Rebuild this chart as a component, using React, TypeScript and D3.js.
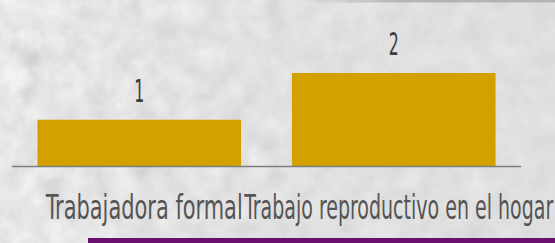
import React from "react";
import * as d3 from "d3";

const categories: string[] = ["Trabajadora formal", "Trabajo reproductivo en el hogar"];
const values: number[] = [1, 2];
const valueLabels: string[] = ["1", "2"];

const W = 555;
const H = 243;
const FONT = "'DejaVu Sans Condensed', 'Liberation Sans Narrow', sans-serif";

export default function App() {
  const x = d3.scaleBand<string>().domain(categories).range([12, 521]).paddingInner(0.2).paddingOuter(0.1);
  const y = d3.scaleLinear().domain([0, 2]).range([166.5, 73]);
  const labelWidths = [197, 309];

  return (
    <svg width={W} height={H} style={{ position: "fixed", left: 0, top: 0, display: "block" }}>
      <defs>
        <filter id="tex" x="0" y="0" width="100%" height="100%" filterUnits="userSpaceOnUse">
          <feTurbulence type="fractalNoise" baseFrequency="0.045" numOctaves={4} seed={7} result="n" />
          <feColorMatrix
            in="n"
            type="matrix"
            values="0.2 0.2 0.2 0 0.5  0.2 0.2 0.2 0 0.5  0.2 0.2 0.2 0 0.5  0 0 0 0 1"
          />
        </filter>
        <linearGradient id="shade" x1="0" x2="1" y1="0" y2="0">
          <stop offset="0" stopColor="#d0d0d0" stopOpacity={0.0} />
          <stop offset="0.45" stopColor="#d6d6d6" stopOpacity={0.35} />
          <stop offset="1" stopColor="#dadada" stopOpacity={0.6} />
        </linearGradient>
        <linearGradient id="edge" x1="0" x2="1" y1="0" y2="0">
          <stop offset="0" stopColor="#8a8a8a" stopOpacity={0} />
          <stop offset="0.4" stopColor="#8a8a8a" stopOpacity={0.5} />
          <stop offset="1" stopColor="#8a8a8a" stopOpacity={0.5} />
        </linearGradient>
      </defs>
      <rect x={0} y={0} width={W} height={H} fill="#d0d0d0" />
      <rect x={0} y={0} width={W} height={H} filter="url(#tex)" />
      <rect x={0} y={0} width={W} height={H} fill="url(#shade)" />
      <rect x={300} y={0} width={W - 300} height={2.5} fill="url(#edge)" />

      {categories.map((c, i) => (
        <rect
          key={c}
          x={x(c)}
          y={y(values[i])}
          width={x.bandwidth()}
          height={y(0) - y(values[i])}
          fill="#d4a000"
        />
      ))}
      <line x1={12} x2={521} y1={y(0)} y2={y(0)} stroke="#7d7d7d" strokeWidth={1.5} />

      {categories.map((c, i) => (
        <text
          key={"v" + c}
          x={(x(c) as number) + x.bandwidth() / 2}
          y={y(values[i]) - 18}
          textAnchor="middle"
          fontFamily={FONT}
          fontSize={32}
          fontWeight={300}
          fill="#3d3d3d"
          textLength={10}
          lengthAdjust="spacingAndGlyphs"
        >
          {valueLabels[i]}
        </text>
      ))}

      {categories.map((c, i) => (
        <text
          key={"c" + c}
          x={(x(c) as number) + x.bandwidth() / 2 + 5}
          y={219}
          textAnchor="middle"
          fontFamily={FONT}
          fontSize={34}
          fill="#555555"
          textLength={labelWidths[i]}
          lengthAdjust="spacingAndGlyphs"
        >
          {c}
        </text>
      ))}

      <rect x={88} y={238} width={W - 88} height={5} fill="#6b0f6e" />
    </svg>
  );
}
